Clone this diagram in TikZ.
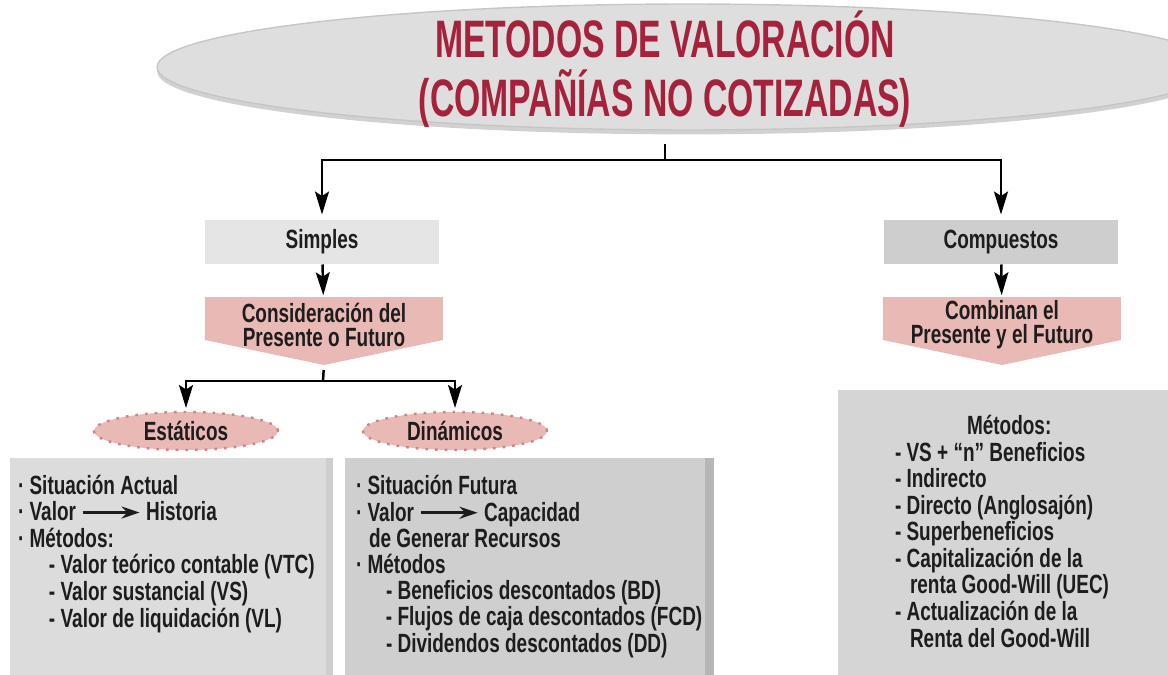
\documentclass[tikz,border=0pt]{standalone}
\usepackage{fontspec}
\setmainfont{Liberation Sans}[FakeStretch=0.72]
\newfontfamily\titlefamily{Liberation Sans}[FakeStretch=0.64]
\usetikzlibrary{arrows.meta,shapes.geometric,shadows,backgrounds}

\definecolor{titlered}{RGB}{166,33,60}
\definecolor{ovalgray}{RGB}{222,222,222}
\definecolor{lightbox}{RGB}{229,229,229}
\definecolor{darkbox}{RGB}{206,206,206}
\definecolor{pinkfill}{RGB}{233,185,181}
\definecolor{pinkdot}{RGB}{210,132,129}
\definecolor{panelgray}{RGB}{220,220,220}
\definecolor{paneldark}{RGB}{207,207,207}
\definecolor{paneledge}{RGB}{182,182,182}
\definecolor{inkblack}{RGB}{30,28,29}

\newcommand{\valorto}{\tikz[baseline=-0.6ex]\draw[line width=1.5pt,-{Stealth[length=0.36cm,width=0.24cm]}] (0,0) -- (1.14cm,0);}

\begin{document}
\begin{tikzpicture}[x=0.02cm,y=-0.02cm,
  txt/.style={font=\fontsize{15}{15.1}\selectfont\bfseries,text=inkblack,inner sep=0pt,outer sep=0pt},
  conn/.style={line width=1.4pt,-{Stealth[length=0.46cm,width=0.28cm,inset=0.09cm]}},
  link/.style={line width=1.4pt},
  oval/.style={ellipse,minimum width=21.24cm,minimum height=2.52cm,fill=ovalgray,draw=gray!45,line width=0.8pt,
    drop shadow={shadow xshift=0pt,shadow yshift=-2.5pt,fill=gray!60,opacity=.6}},
  headbox/.style={txt,rectangle,minimum width=4.7cm,minimum height=0.9cm},
  pentabox/.style={txt,rectangle,align=center,minimum width=4.76cm,minimum height=1.12cm,
    font=\fontsize{15}{13.8}\selectfont\bfseries},
  dashoval/.style={txt,ellipse,minimum width=3.68cm,minimum height=0.76cm,fill=pinkfill,
    draw=pinkdot,line width=1.4pt,dash pattern=on 1.5pt off 4pt},
  panel/.style={txt,align=left,anchor=base west}]
  \useasboundingbox (0,0) rectangle (1168,675);
  \clip (0,0) rectangle (1168,675);

  %% title
  \node[oval] (title) at (688,67) {};
  \node[txt,align=center,anchor=base,text=titlered,
    font=\fontsize{30}{33.6}\selectfont\bfseries\titlefamily] (titletext) at (665,117)
    {METODOS DE VALORACIÓN\\(COMPAÑÍAS NO COTIZADAS)};

  %% first level
  \node[headbox,fill=lightbox] (simples) at (322,242) {Simples};
  \node[headbox,fill=darkbox] (compuestos) at (1001,242) {Compuestos};

  \node[pentabox] (consid) at (324,325) {Consideración del\\Presente o Futuro};
  \node[pentabox] (combinan) at (1002,325) {Combinan el\\Presente y el Futuro};

  \begin{scope}[on background layer]
    \fill[pinkfill] (consid.north west) -- (consid.north east) -- ++(0,43)
      -- ++(-119,25) coordinate (consid tip) -- ++(-119,-25) -- cycle;
    \fill[pinkfill] (combinan.north west) -- (combinan.north east) -- ++(0,43)
      -- ++(-119,25) -- ++(-119,-25) -- cycle;
  \end{scope}

  %% second level
  \node[dashoval] (estat) at (186,431) {Estáticos};
  \node[dashoval] (dinam) at (455,431) {Dinámicos};

  %% panels
  \fill[panelgray] (10,458) rectangle (326,675);
  \fill[darkbox] (326,458) rectangle (333,675);
  \fill[paneldark] (345,458) rectangle (705,675);
  \fill[paneledge] (705,458) rectangle (714,675);
  \fill[panelgray!97!black] (838,390) rectangle (1168,675);

  \node[panel] (estlist) at (18,627)
    {· Situación Actual\\
     · Valor \valorto{} Historia\\
     · Métodos:\\
     \hspace*{0.62cm}- Valor teórico contable (VTC)\\
     \hspace*{0.62cm}- Valor sustancial (VS)\\
     \hspace*{0.62cm}- Valor de liquidación (VL)};

  \node[panel,font=\fontsize{15}{14.9}\selectfont\bfseries] (dinlist) at (356,652)
    {· Situación Futura\\
     · Valor \valorto{} Capacidad\\
     \hspace*{0.26cm}de Generar Recursos\\
     · Métodos\\
     \hspace*{0.6cm}- Beneficios descontados (BD)\\
     \hspace*{0.6cm}- Flujos de caja descontados (FCD)\\
     \hspace*{0.6cm}- Dividendos descontados (DD)};

  \node[panel] (complist) at (895,647)
    {\hspace*{1.44cm}Métodos:\\
     - VS + “n” Beneficios\\
     - Indirecto\\
     - Directo (Anglosajón)\\
     - Superbeneficios\\
     - Capitalización de la\\
     \hspace*{0.3cm}renta Good-Will (UEC)\\
     - Actualización de la\\
     \hspace*{0.3cm}Renta del Good-Will};

  %% connectors
  \coordinate (split) at (665,160);
  \coordinate (fork) at (323,381);
  \draw[link,shorten <=0.26cm] (title.south -| split) -- (split);
  \draw[conn,shorten >=0.1cm] (split) -| (simples.north);
  \draw[conn,shorten >=0.1cm] (split) -| (compuestos.north);
  \draw[conn,shorten >=1pt] (simples) -- (consid);
  \draw[conn,shorten >=1pt] (compuestos) -- (combinan);
  \draw[link,shorten <=0.1cm] (consid tip) -- (fork);
  \draw[conn,shorten >=0.08cm] (fork) -| (estat.north);
  \draw[conn,shorten >=0.08cm] (fork) -| (dinam.north);
\end{tikzpicture}
\end{document}
